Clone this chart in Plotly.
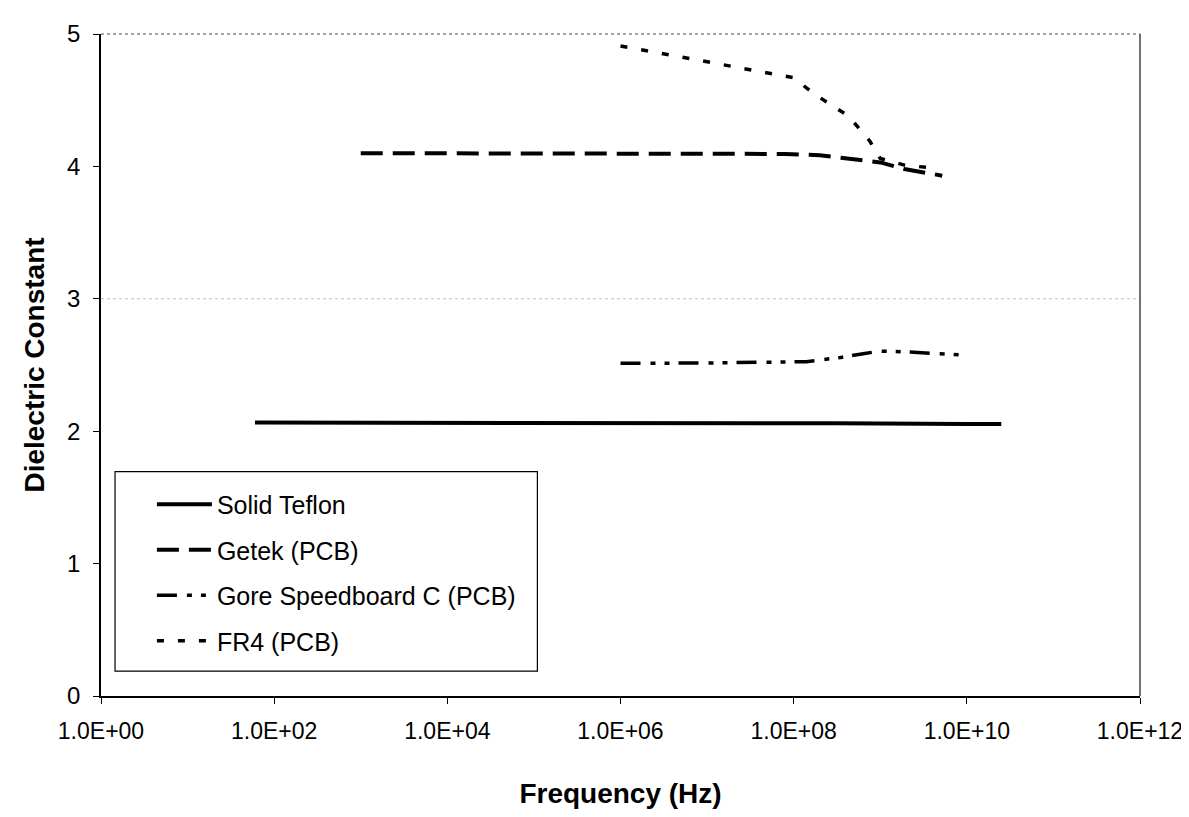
import plotly.graph_objects as go

# Frequencies (Hz) and dielectric constants
teflon_f = [60, 1e3, 1e6, 3e8, 1e10, 2.5e10]
teflon_dk = [2.065, 2.065, 2.065, 2.06, 2.055, 2.055]

getek_f = [1e3, 1e6, 8e7, 2e8, 5e8, 1e9, 1.9e9, 5.2e9]
getek_dk = [4.10, 4.10, 4.094, 4.084, 4.056, 4.03, 3.98, 3.93]

gore_f = [1e6, 1e7, 1.4e8, 3.5e8, 6.6e8, 1e9, 2.1e9, 6e9, 1e10]
gore_dk = [2.513, 2.515, 2.525, 2.557, 2.587, 2.605, 2.598, 2.583, 2.575]

fr4_f = [1e6, 1e8, 1.7e8, 4.3e8, 7.6e8, 1e9, 1.9e9, 3.7e9]
fr4_dk = [4.91, 4.67, 4.55, 4.38, 4.19, 4.06, 4.01, 3.99]

x_tickvals = [1e0, 1e2, 1e4, 1e6, 1e8, 1e10, 1e12]
x_ticktext = ["1.0E+00", "1.0E+02", "1.0E+04", "1.0E+06", "1.0E+08", "1.0E+10", "1.0E+12"]
y_tickvals = [0, 1, 2, 3, 4, 5]

FONT = "Liberation Sans, Arial, sans-serif"

fig = go.Figure()
series = [
    ("Solid Teflon", teflon_f, teflon_dk, "solid", 4),
    ("Getek (PCB)", getek_f, getek_dk, "22px,10px", 4),
    ("Gore Speedboard C (PCB)", gore_f, gore_dk, "20px,10px,5px,9px,5px,9px", 3.5),
    ("FR4 (PCB)", fr4_f, fr4_dk, "7px,14px", 3.5),
]
for i, (name, xs, ys, dash, w) in enumerate(series):
    fig.add_trace(go.Scatter(
        x=xs, y=ys, name=name, mode="lines", legendgroup=f"g{i}",
        line=dict(color="black", width=w, dash=dash),
    ))

fig.update_layout(
    width=1189, height=817,
    margin=dict(l=93, r=57, t=22, b=129),
    paper_bgcolor="white", plot_bgcolor="white",
    font=dict(family=FONT, color="black", size=24),
    showlegend=True,
    legend=dict(
        x=0.049, y=0.324, xanchor="left", yanchor="top",
        bgcolor="rgba(0,0,0,0)", borderwidth=0,
        font=dict(family=FONT, size=25, color="black"),
        tracegroupgap=10, itemwidth=55,
    ),
    xaxis=dict(
        type="log", range=[0, 12],
        tickvals=x_tickvals, ticktext=x_ticktext,
        ticks="outside", ticklen=6, tickcolor="black",
        showline=True, linecolor="black", linewidth=1.5,
        showgrid=False, zeroline=False,
        tickfont=dict(family=FONT, size=23),
        ticklabelstandoff=8,
        title=dict(text="<b>Frequency (Hz)</b>", font=dict(family=FONT, size=28), standoff=40),
    ),
    yaxis=dict(
        range=[0, 5], tickvals=y_tickvals,
        ticks="outside", ticklen=6, tickcolor="black",
        showline=True, linecolor="black", linewidth=1.5,
        showgrid=False, zeroline=False,
        tickfont=dict(family=FONT, size=24),
        ticklabelstandoff=8,
        title=dict(text="<b>Dielectric Constant</b>", font=dict(family=FONT, size=28), standoff=14),
    ),
)

# faint gridline at 3, gray top/right border, legend frame
fig.add_hline(y=3, line=dict(color="#bbbbbb", width=1, dash="dot"))
fig.add_shape(type="line", xref="paper", yref="paper", x0=0, x1=1, y0=1, y1=1,
              line=dict(color="#888888", width=1.5, dash="dot"))
fig.add_shape(type="line", xref="paper", yref="paper", x0=1, x1=1, y0=0, y1=1,
              line=dict(color="#444444", width=1.5))
fig.add_shape(type="rect", xref="paper", yref="paper",
              x0=0.0135, x1=0.42, y0=0.0375, y1=0.339,
              line=dict(color="black", width=1.2))

fig.write_html("out.html")
